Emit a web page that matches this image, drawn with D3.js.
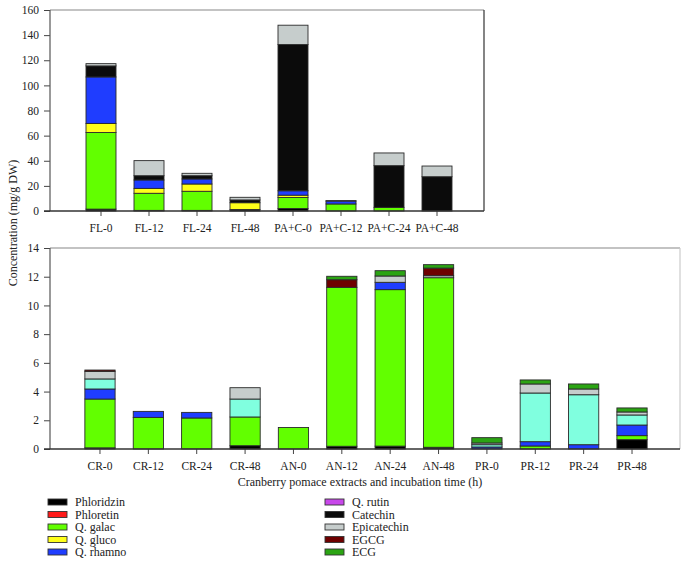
<!DOCTYPE html>
<html><head><meta charset="utf-8">
<script src="https://cdn.jsdelivr.net/npm/d3@7"></script>
<style>body{margin:0;background:#fff}svg{display:block}text{font-family:"Liberation Serif","DejaVu Serif",serif;fill:#222}</style>
</head><body><svg id="c" width="687" height="564"></svg>
<script>
const seriesKeys = ["Phloridzin","Phloretin","Q. galac","Q. gluco","Q. rhamno","Q. rutin","Unlisted","Catechin","Epicatechin","EGCG","ECG"];
const seriesColors = ["#000000","#ff1a1a","#62ff00","#ffff1a","#1f3dff","#c847ea","#80ffdf","#0b0b0b","#c6cdcc","#6e0000","#2ba413"];
const legendKeys = ["Phloridzin","Phloretin","Q. galac","Q. gluco","Q. rhamno","Q. rutin","Catechin","Epicatechin","EGCG","ECG"];

const topCategories = ["FL-0","FL-12","FL-24","FL-48","PA+C-0","PA+C-12","PA+C-24","PA+C-48"];
const topValues = {
  "Phloridzin": [1.5,0.5,0.5,1.2,2,0,0,0],
  "Phloretin":  [0,0,0,0,0,0,0,0],
  "Q. galac":   [61,13.6,15.2,0,8.8,5.6,2.9,0],
  "Q. gluco":   [7.2,3.9,5.8,5.4,1.8,0,0,0],
  "Q. rhamno":  [37,6.7,4.0,0,3.5,2.3,0,0],
  "Q. rutin":   [0,0,0,0,0,0,0,0],
  "Unlisted":   [0,0,0,0,0,0,0,0],
  "Catechin":   [8.8,3.4,2.6,2.2,116.4,0,33.2,27.3],
  "Epicatechin":[1.8,12,1.9,2.1,15.4,0.4,10.1,8.5],
  "EGCG":       [0,0,0,0,0,0,0,0],
  "ECG":        [0,0,0,0,0,0,0,0]
};
const topTicks = [0,20,40,60,80,100,120,140,160];

const botCategories = ["CR-0","CR-12","CR-24","CR-48","AN-0","AN-12","AN-24","AN-48","PR-0","PR-12","PR-24","PR-48"];
const botValues = {
  "Phloridzin": [0.08,0,0,0.23,0,0.19,0.2,0.12,0,0,0,0.65],
  "Phloretin":  [0,0,0,0,0,0,0,0,0,0,0,0],
  "Q. galac":   [3.4,2.2,2.16,2.0,1.5,11.07,10.9,11.81,0,0.21,0,0.28],
  "Q. gluco":   [0,0,0,0,0,0,0,0,0,0,0,0],
  "Q. rhamno":  [0.7,0.42,0.39,0,0,0,0.51,0,0.14,0.3,0.3,0.74],
  "Q. rutin":   [0,0,0,0,0,0,0,0,0,0,0,0],
  "Unlisted":   [0.7,0,0,1.25,0,0,0,0,0.16,3.39,3.48,0.7],
  "Catechin":   [0,0,0,0,0,0,0,0,0,0,0,0],
  "Epicatechin":[0.53,0,0,0.79,0,0,0.44,0.14,0.12,0.63,0.4,0.21],
  "EGCG":       [0.09,0,0,0,0,0.53,0,0.53,0,0,0,0],
  "ECG":        [0,0,0,0,0,0.24,0.37,0.24,0.37,0.28,0.35,0.28]
};
const botTicks = [0,2,4,6,8,10,12,14];

const svg = d3.select("#c");
const color = d3.scaleOrdinal().domain(seriesKeys).range(seriesColors);

function panel(cats, vals, ticks, xr, yr, left, right, topBorder, rightBorderColor){
  const rows = cats.map((c,i)=>{const o={cat:c}; seriesKeys.forEach(k=>o[k]=vals[k][i]); return o;});
  const stack = d3.stack().keys(seriesKeys)(rows);
  const x = d3.scaleBand().domain(cats).range(xr).paddingInner(0.375).paddingOuter(0.1875);
  const y = d3.scaleLinear().domain([ticks[0], ticks[ticks.length-1]]).range(yr);
  const g = svg.append("g");
  // borders
  g.append("line").attr("x1",left).attr("x2",right).attr("y1",yr[1]).attr("y2",yr[1]).attr("stroke","#888").attr("stroke-width",1.2);
  g.append("line").attr("x1",right).attr("x2",right).attr("y1",yr[1]).attr("y2",yr[0]).attr("stroke",rightBorderColor).attr("stroke-width",1.2);
  // bars
  stack.forEach(s=>{
    g.append("g").selectAll("rect").data(s.filter(d=>d[1]-d[0]>0)).join("rect")
      .attr("x",d=>x(d.data.cat)).attr("width",x.bandwidth())
      .attr("y",d=>y(d[1])).attr("height",d=>y(d[0])-y(d[1]))
      .attr("fill",color(s.key)).attr("stroke","#2a2a2a").attr("stroke-width",0.9);
  });
  // y axis
  const ya = g.append("g").attr("transform",`translate(${left},0)`).call(d3.axisLeft(y).tickValues(ticks).tickSize(6).tickPadding(5));
  ya.select(".domain").remove();
  ya.selectAll("line").attr("stroke","#444");
  ya.selectAll("text").style("font-size","11.5px").style("font-family","Liberation Serif, serif").attr("fill","#222");
  g.append("line").attr("x1",left).attr("x2",left).attr("y1",yr[1]).attr("y2",yr[0]).attr("stroke","#555").attr("stroke-width",1.2);
  // x axis
  const xa = g.append("g").attr("transform",`translate(0,${yr[0]})`).call(d3.axisBottom(x).tickSize(5).tickPadding(8));
  xa.select(".domain").remove();
  xa.selectAll("line").attr("stroke","#444");
  xa.selectAll("text").style("font-size","11.5px").style("font-family","Liberation Serif, serif").attr("fill","#222");
  g.append("line").attr("x1",left-6).attr("x2",right).attr("y1",yr[0]).attr("y2",yr[0]).attr("stroke","#333").attr("stroke-width",1.3);
}

panel(topCategories, topValues, topTicks, [77,461], [211,10], 50, 484, true, "#333");
panel(botCategories, botValues, botTicks, [75.8,656.2], [449,248], 50, 680, true, "#ccc");

svg.append("text").attr("transform","translate(17,223) rotate(-90)").attr("text-anchor","middle")
  .style("font-size","12px").text("Concentration (mg/g DW)");
svg.append("text").attr("x",360).attr("y",486).attr("text-anchor","middle")
  .style("font-size","12px").text("Cranberry pomace extracts and incubation time (h)");

// legend
const leg = svg.append("g");
legendKeys.forEach((k,i)=>{
  const col = i<5?0:1, row = i%5;
  const lx = col===0?48:325, ly = 502 + row*12.5;
  leg.append("rect").attr("x",lx).attr("y",ly-3).attr("width",19).attr("height",6)
    .attr("fill",color(k)).attr("stroke","#333").attr("stroke-width",0.9);
  leg.append("text").attr("x",lx+27).attr("y",ly+4).style("font-size","12px").text(k);
});
</script></body></html>
